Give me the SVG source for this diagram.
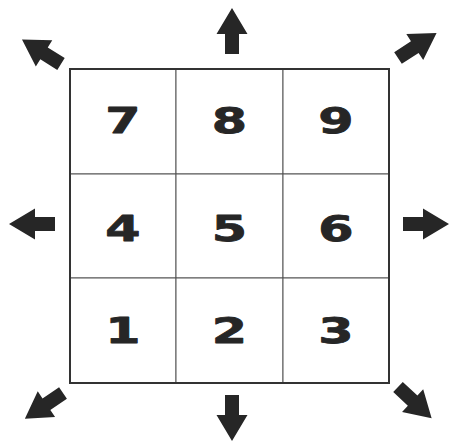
<svg xmlns="http://www.w3.org/2000/svg" xmlns:xlink="http://www.w3.org/1999/xlink" width="450" height="442" viewBox="0 0 450 442">
<style>
.cell{fill:#fff;stroke:#555;stroke-width:1}
.outer{fill:none;stroke:#333;stroke-width:2}
.dig{font-family:"DejaVu Sans",sans-serif;font-weight:bold;font-size:35px;fill:#262626;stroke:#262626;stroke-width:0.8;stroke-linejoin:round;text-anchor:middle}
.arr{fill:#262626}
</style>
<defs>
<path id="arrow" class="arr" d="M0,-7 H20 V-15.5 L46,0 L20,15.5 V7 H0 Z"/>
</defs>
<rect width="450" height="442" fill="#fff"/>
<g id="cell7"><rect class="cell" x="70" y="69" width="106" height="105"/><text class="dig" transform="translate(123,133) scale(1.45,1)">7</text></g>
<g id="cell8"><rect class="cell" x="176" y="69" width="107" height="105"/><text class="dig" transform="translate(229.5,133) scale(1.45,1)">8</text></g>
<g id="cell9"><rect class="cell" x="283" y="69" width="106" height="105"/><text class="dig" transform="translate(336,133) scale(1.45,1)">9</text></g>
<g id="cell4"><rect class="cell" x="70" y="174" width="106" height="104"/><text class="dig" transform="translate(123,241) scale(1.45,1)">4</text></g>
<g id="cell5"><rect class="cell" x="176" y="174" width="107" height="104"/><text class="dig" transform="translate(229.5,241) scale(1.45,1)">5</text></g>
<g id="cell6"><rect class="cell" x="283" y="174" width="106" height="104"/><text class="dig" transform="translate(336,241) scale(1.45,1)">6</text></g>
<g id="cell1"><rect class="cell" x="70" y="278" width="106" height="105"/><text class="dig" transform="translate(123,343) scale(1.45,1)">1</text></g>
<g id="cell2"><rect class="cell" x="176" y="278" width="107" height="105"/><text class="dig" transform="translate(229.5,343) scale(1.45,1)">2</text></g>
<g id="cell3"><rect class="cell" x="283" y="278" width="106" height="105"/><text class="dig" transform="translate(336,343) scale(1.45,1)">3</text></g>
<rect class="outer" x="70" y="69" width="319" height="314"/>
<g id="arrows">
<use xlink:href="#arrow" href="#arrow" transform="translate(232,54) rotate(-90)"/>
<use xlink:href="#arrow" href="#arrow" transform="translate(232,395) rotate(90)"/>
<use xlink:href="#arrow" href="#arrow" transform="translate(55,224) rotate(180)"/>
<use xlink:href="#arrow" href="#arrow" transform="translate(403,224)"/>
<use xlink:href="#arrow" href="#arrow" transform="translate(61,64) rotate(-148)"/>
<use xlink:href="#arrow" href="#arrow" transform="translate(398,58) rotate(-33)"/>
<use xlink:href="#arrow" href="#arrow" transform="translate(63,393) rotate(146)"/>
<use xlink:href="#arrow" href="#arrow" transform="translate(398,387) rotate(43)"/>
</g>
</svg>
